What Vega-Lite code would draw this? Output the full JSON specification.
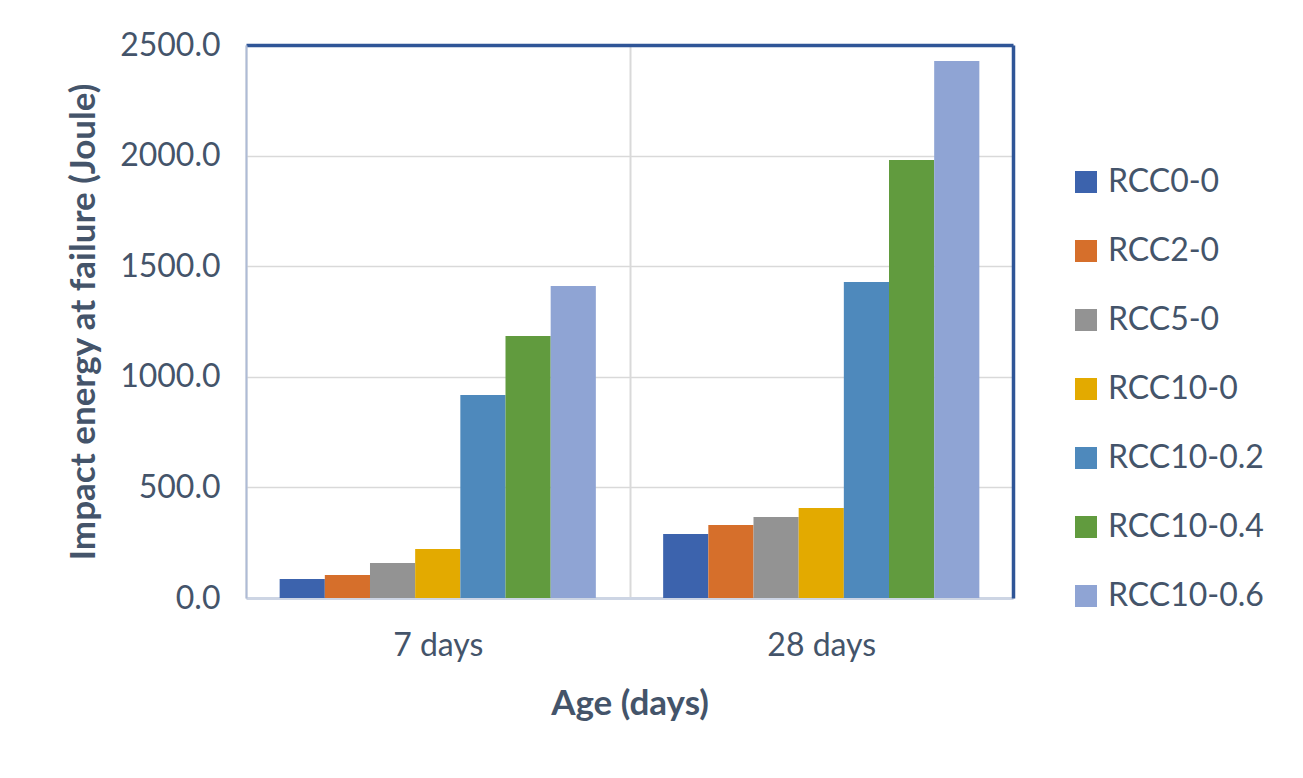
{
  "$schema": "https://vega.github.io/schema/vega-lite/v6.json",
  "width": 767,
  "height": 553,
  "autosize": {"type": "none"},
  "padding": {"left": 246, "top": 45, "right": 290, "bottom": 180},
  "background": "white",
  "config": {
    "font": "Lato",
    "view": {"stroke": null},
    "axis": {"labelColor": "#44546A", "titleColor": "#44546A", "labelFontSize": 32, "titleFontSize": 35, "labelFontWeight": "normal", "titleFontWeight": "bold", "labelFont": "Lato", "titleFont": "Lato"}
  },
  "data": {
    "values": [
      {"age": "7 days", "mix": "RCC0-0", "energy": 86},
      {"age": "7 days", "mix": "RCC2-0", "energy": 104},
      {"age": "7 days", "mix": "RCC5-0", "energy": 158},
      {"age": "7 days", "mix": "RCC10-0", "energy": 221},
      {"age": "7 days", "mix": "RCC10-0.2", "energy": 918},
      {"age": "7 days", "mix": "RCC10-0.4", "energy": 1184},
      {"age": "7 days", "mix": "RCC10-0.6", "energy": 1410},
      {"age": "28 days", "mix": "RCC0-0", "energy": 289},
      {"age": "28 days", "mix": "RCC2-0", "energy": 330},
      {"age": "28 days", "mix": "RCC5-0", "energy": 366},
      {"age": "28 days", "mix": "RCC10-0", "energy": 407},
      {"age": "28 days", "mix": "RCC10-0.2", "energy": 1429},
      {"age": "28 days", "mix": "RCC10-0.4", "energy": 1980},
      {"age": "28 days", "mix": "RCC10-0.6", "energy": 2428}
    ]
  },
  "encoding": {
    "x": {
      "field": "age", "type": "nominal", "sort": ["7 days", "28 days"],
      "scale": {"paddingInner": 0, "paddingOuter": 0},
      "axis": {"title": "Age (days)", "labelAngle": 0, "ticks": false, "grid": true, "tickBand": "extent", "gridColor": "#D9D9D9", "gridWidth": 2, "domainColor": "#CDD5E4", "domainWidth": 3, "labelPadding": 32, "titlePadding": 25}
    },
    "xOffset": {
      "field": "mix", "type": "nominal",
      "sort": ["RCC0-0", "RCC2-0", "RCC5-0", "RCC10-0", "RCC10-0.2", "RCC10-0.4", "RCC10-0.6"],
      "scale": {"paddingInner": 0, "paddingOuter": 0.745}
    }
  },
  "layer": [
    {
      "mark": {"type": "bar"},
      "encoding": {
        "y": {
          "field": "energy", "type": "quantitative",
          "scale": {"domain": [0, 2500], "nice": false},
          "axis": {
            "title": "Impact energy at failure (Joule)", "values": [0, 500, 1000, 1500, 2000, 2500], "format": ".1f", "ticks": false,
            "domain": true, "domainColor": "#AEBBD6", "domainWidth": 2,
            "gridColor": {"condition": {"test": "datum.value === 2500", "value": "#2F5597"}, "value": "#D9D9D9"},
            "gridWidth": {"condition": {"test": "datum.value === 2500", "value": 3.5}, "value": 1.5},
            "labelPadding": 26, "titlePadding": 18
          }
        },
        "color": {
          "field": "mix", "type": "nominal",
          "sort": ["RCC0-0", "RCC2-0", "RCC5-0", "RCC10-0", "RCC10-0.2", "RCC10-0.4", "RCC10-0.6"],
          "scale": {
            "domain": ["RCC0-0", "RCC2-0", "RCC5-0", "RCC10-0", "RCC10-0.2", "RCC10-0.4", "RCC10-0.6"],
            "range": ["#3C63AD", "#D66F2B", "#939393", "#E3AA00", "#4E89BC", "#619B3E", "#8FA4D4"]
          },
          "legend": {
            "title": null, "orient": "none", "legendX": 824, "legendY": 121,
            "symbolType": "square", "symbolSize": 484, "symbolStrokeWidth": 0,
            "labelFontSize": 32, "labelColor": "#44546A", "labelFont": "Lato",
            "rowPadding": 37, "labelOffset": 6
          }
        }
      }
    },
    {
      "mark": {"type": "bar", "opacity": 0},
      "encoding": {
        "y": {
          "field": "energy", "type": "quantitative",
          "scale": {"domain": [0, 2500], "nice": false},
          "axis": {"orient": "right", "title": null, "labels": false, "ticks": false, "grid": false, "domain": true, "domainColor": "#2F5597", "domainWidth": 3.5}
        }
      }
    }
  ],
  "resolve": {"axis": {"y": "independent"}}
}
